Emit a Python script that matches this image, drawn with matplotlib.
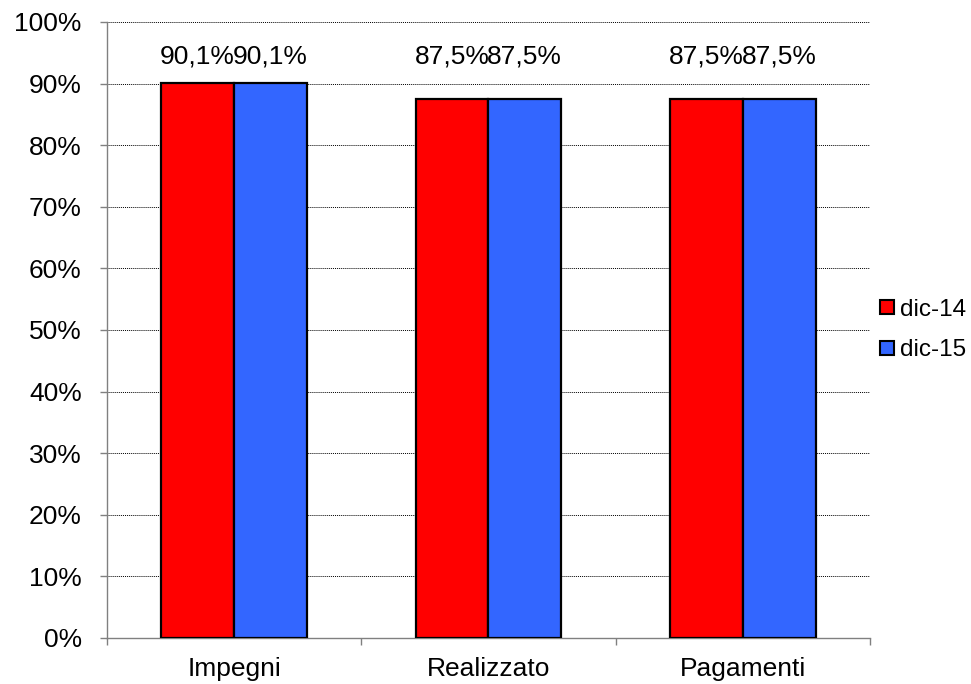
import matplotlib.pyplot as plt
import numpy as np
from matplotlib.lines import Line2D
from matplotlib.ticker import FixedLocator, PercentFormatter

categories = ['Impegni', 'Realizzato', 'Pagamenti']
series_names = ['dic-14', 'dic-15']
dic14 = [90.1, 87.5, 87.5]
dic15 = [90.1, 87.5, 87.5]
colors = ['#FF0000', '#3366FF']

plt.rcParams['font.family'] = ['Liberation Sans', 'DejaVu Sans']

fig = plt.figure(figsize=(9.71, 6.84), dpi=100)
ax = fig.add_axes([0.110, 0.0673, 0.786, 0.9006])

x = np.arange(len(categories))
w = 1 / 3.5
label_level = 93.2  # baseline of the value labels, in data units
for i, (vals, name) in enumerate(zip([dic14, dic15], series_names)):
    xs = x + (i - 0.5) * w
    ax.bar(xs, vals, w, color=colors[i], edgecolor='black',
           linewidth=1.6, label=name, zorder=3)
    for xi, v in zip(xs, vals):
        ax.text(xi, label_level, f'{v:.1f}%'.replace('.', ','), ha='center',
                va='baseline', fontsize=19)

ax.set_xlim(-0.5, len(categories) - 0.5)
ax.set_ylim(0, 100)
ax.yaxis.set_major_locator(FixedLocator(np.arange(0, 101, 10)))
ax.yaxis.set_major_formatter(PercentFormatter(decimals=0))
ax.grid(axis='y', color='black', linestyle=(0, (1, 1)), linewidth=0.7, zorder=0)

ax.set_xticks(x, categories)
ax.set_xticks(np.arange(-0.5, len(categories)), minor=True)
ax.tick_params(axis='x', which='major', length=0, pad=14, labelsize=19)
ax.tick_params(axis='x', which='minor', length=5, color='#808080', width=1)
ax.tick_params(axis='y', length=5, color='#808080', width=1, labelsize=19, pad=13)

for s in ['top', 'right']:
    ax.spines[s].set_visible(False)
for s in ['left', 'bottom']:
    ax.spines[s].set_color('#808080')
    ax.spines[s].set_linewidth(1)

handles = [Line2D([], [], marker='s', linestyle='none', markersize=9.5,
                  markerfacecolor=c, markeredgecolor='black', markeredgewidth=1.5)
           for c in colors]
fig.legend(handles, series_names, loc='center left', bbox_to_anchor=(0.903, 0.5175),
           frameon=False, fontsize=17.5, handletextpad=0.15, borderpad=0,
           borderaxespad=0, labelspacing=0.75, handlelength=0.8)

fig.savefig('out.png', dpi=100)
